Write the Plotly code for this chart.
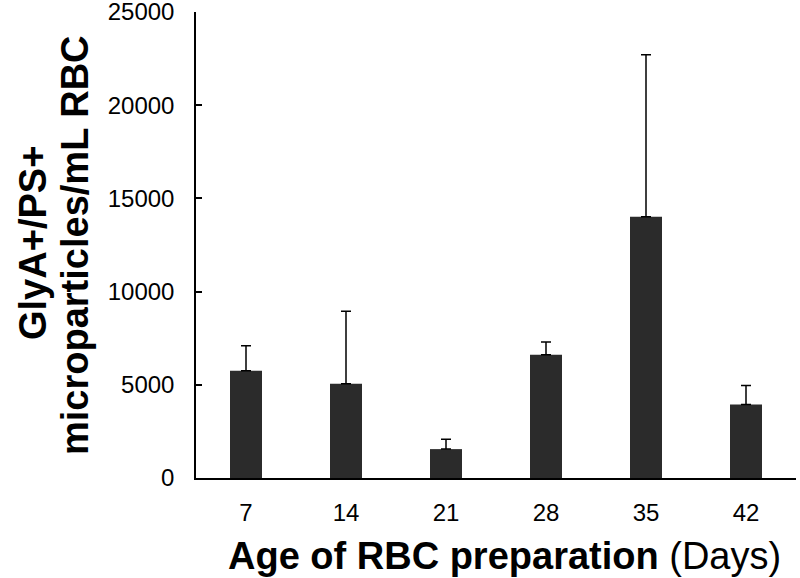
import plotly.graph_objects as go

days = ["7", "14", "21", "28", "35", "42"]
means = [5750, 5060, 1550, 6610, 14020, 3950]
err_plus = [1340, 3890, 530, 690, 8690, 1010]
err_minus = [0, 0, 0, 0, 0, 0]
y_ticks = [0, 5000, 10000, 15000, 20000, 25000]

FONT = "Liberation Sans, Arial, sans-serif"

fig = go.Figure()
fig.add_trace(go.Bar(
    x=days, y=means, width=0.32,
    marker=dict(color="#2b2b2b", line=dict(width=0)),
    error_y=dict(type="data", symmetric=False, array=err_plus, arrayminus=err_minus,
                 color="black", thickness=1.5, width=5),
))

fig.update_layout(
    width=800, height=578,
    margin=dict(l=196, r=4, t=12, b=100),
    plot_bgcolor="white", paper_bgcolor="white",
    showlegend=False,
    font=dict(family=FONT, color="black"),
    xaxis=dict(
        type="category", range=[-0.5, 5.5],
        showline=True, linecolor="black", linewidth=1.5,
        ticks="", tickfont=dict(size=24, family=FONT, color="black"),
        showgrid=False, zeroline=False, ticklabelstandoff=12,
        automargin=False,
    ),
    yaxis=dict(
        range=[0, 25002], tickvals=y_ticks, ticktext=[str(v) for v in y_ticks],
        showline=True, linecolor="black", linewidth=1.5,
        ticks="inside", ticklen=6, tickwidth=1.5, tickcolor="black",
        tickfont=dict(size=24, family=FONT, color="black"),
        showgrid=False, zeroline=False, ticklabelstandoff=15,
        ticklabeloverflow="allow", automargin=False,
    ),
)

fig.add_annotation(
    text="<b>Age of RBC preparation</b> (Days)",
    xref="paper", yref="paper", x=0, y=0, xshift=504 - 196, yshift=-78,
    xanchor="center", yanchor="middle", showarrow=False,
    font=dict(size=38, family=FONT, color="black"),
)
fig.add_annotation(
    text="<b>GlyA+/PS+</b>",
    xref="paper", yref="paper", x=0, y=0, xshift=33 - 196, yshift=478 - 243,
    xanchor="center", yanchor="middle", showarrow=False, textangle=-90,
    font=dict(size=38, family=FONT, color="black"),
)
fig.add_annotation(
    text="<b>microparticles/mL RBC</b>",
    xref="paper", yref="paper", x=0, y=0, xshift=75 - 196, yshift=478 - 245,
    xanchor="center", yanchor="middle", showarrow=False, textangle=-90,
    font=dict(size=38, family=FONT, color="black"),
)

fig.write_html(
    "out.html",
    config={"displayModeBar": False},
    post_script="document.body.style.margin='0';document.body.style.overflow='hidden';",
)
